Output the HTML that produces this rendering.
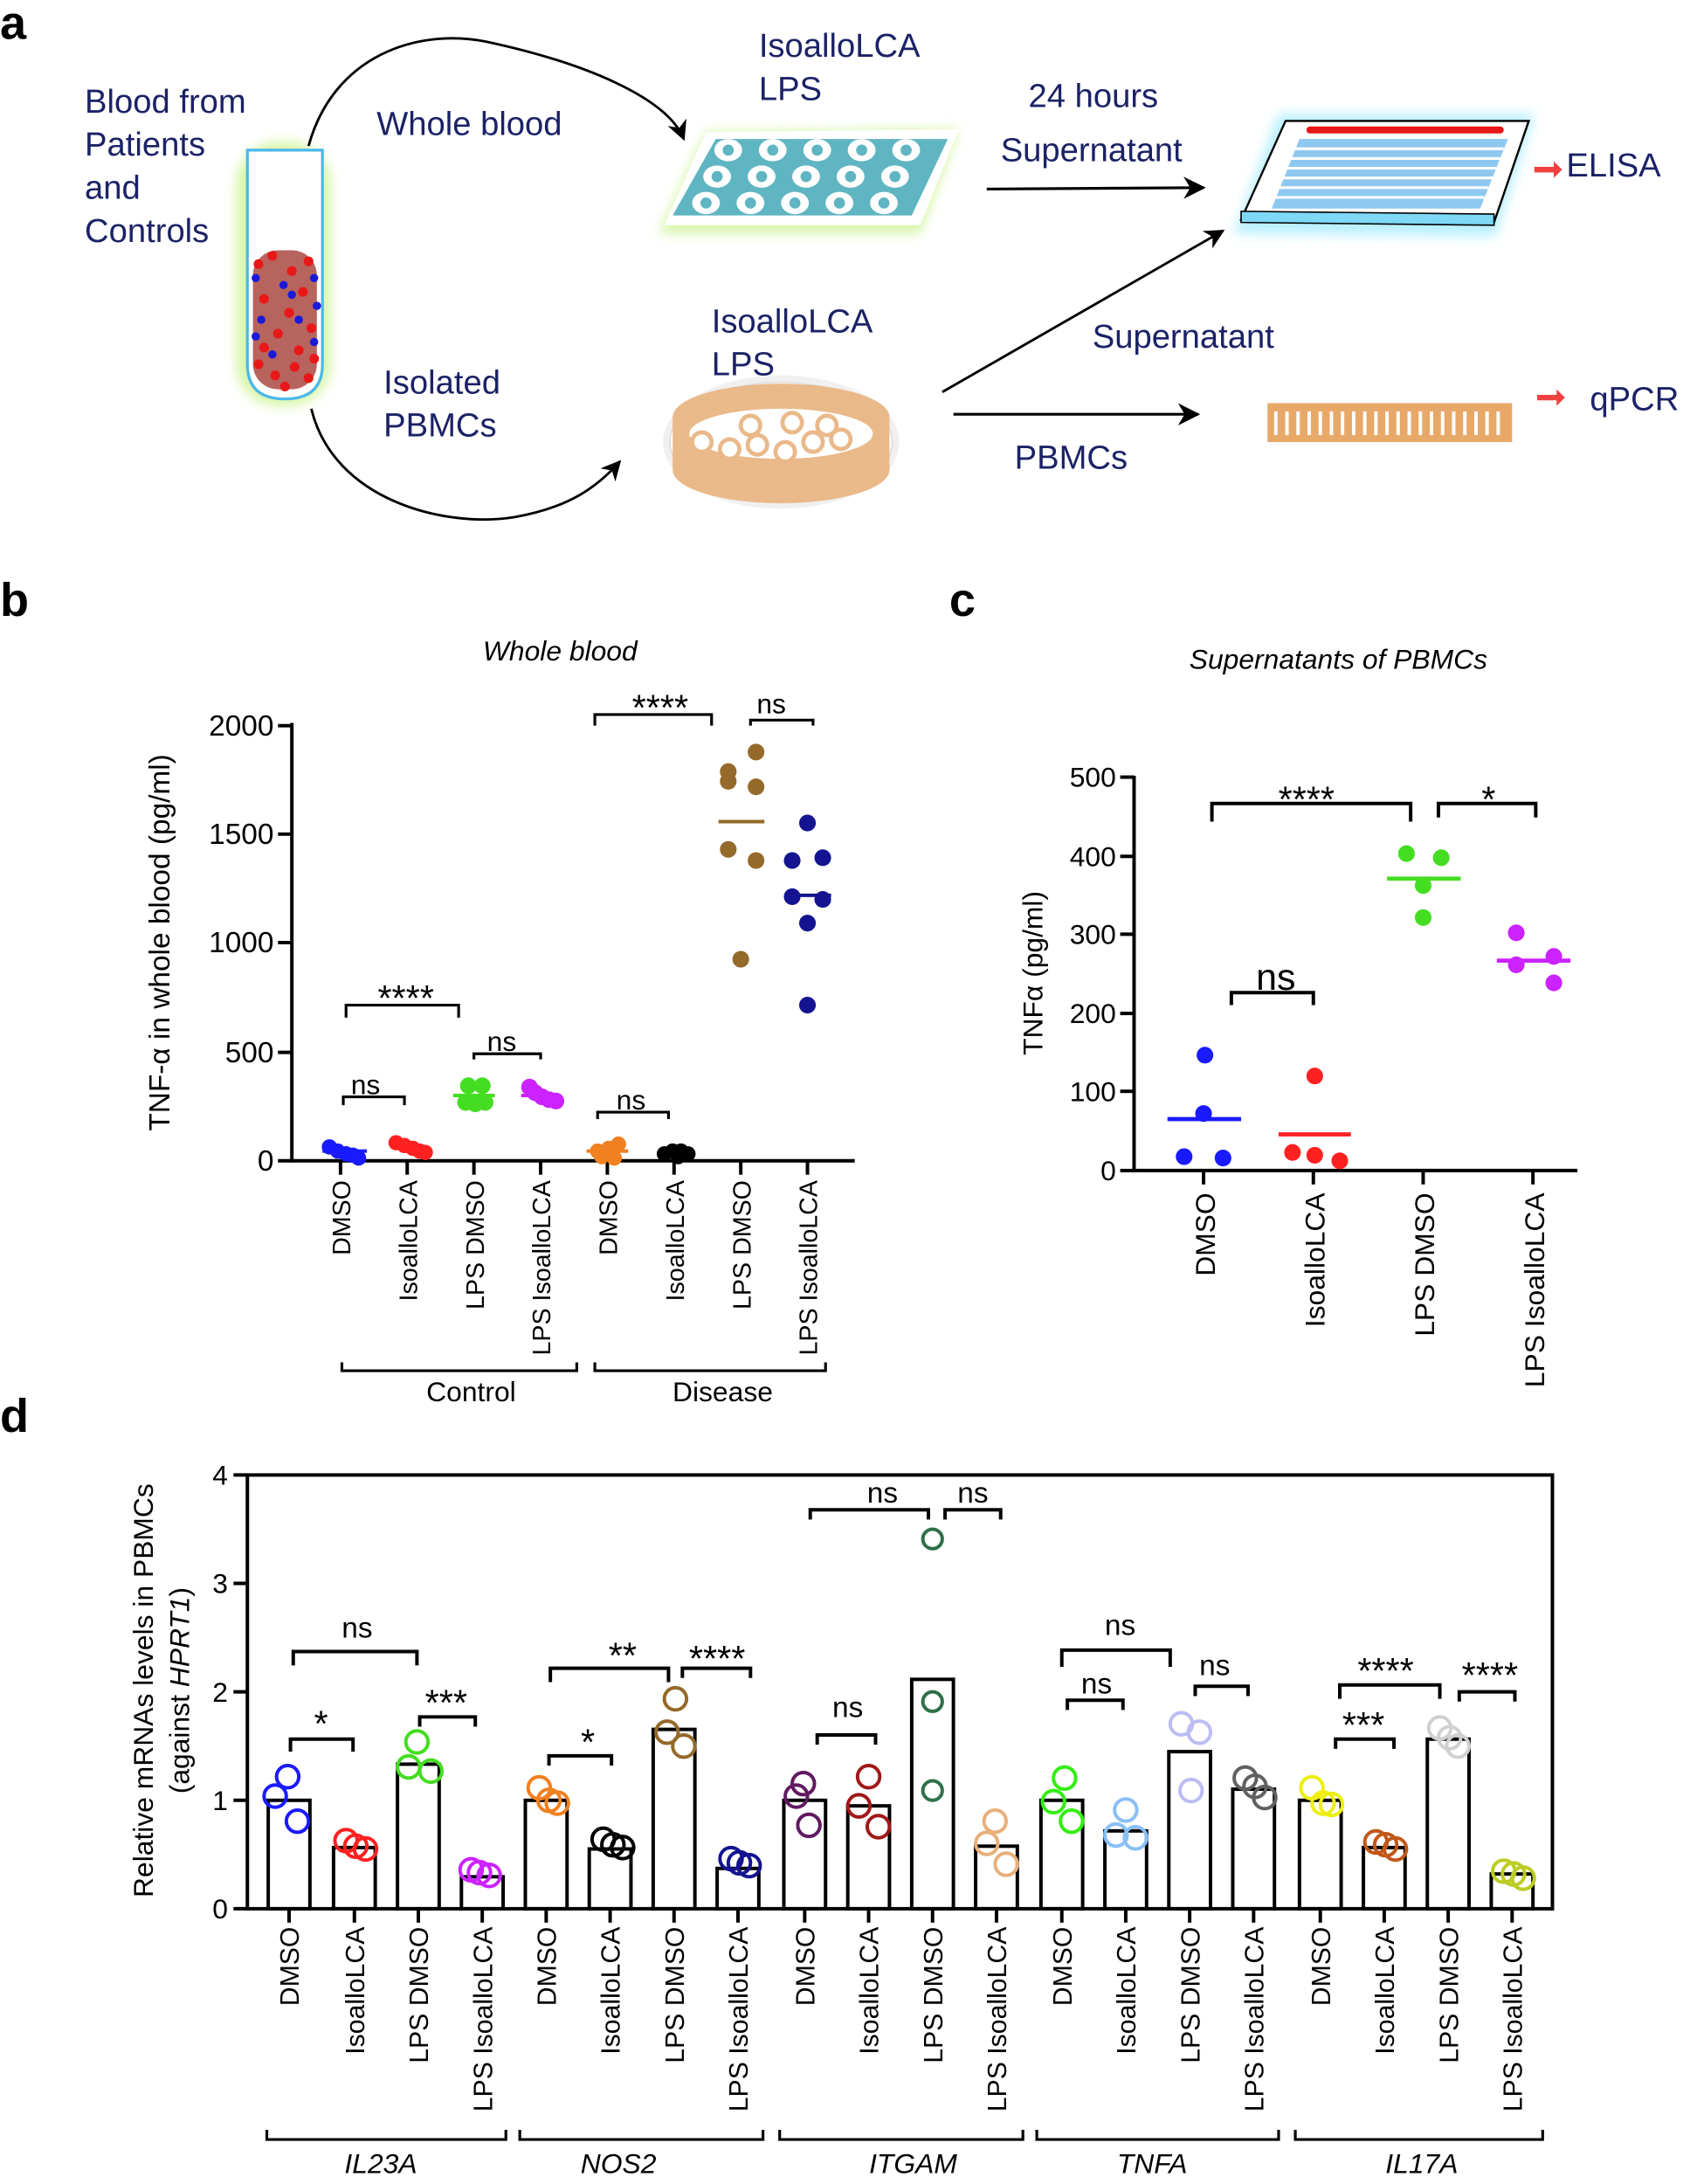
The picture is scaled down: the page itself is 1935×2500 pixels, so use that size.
<!DOCTYPE html>
<html><head><meta charset="utf-8"><style>
html,body{margin:0;padding:0;background:#fff}
svg{display:block}
text{font-family:"Liberation Sans",Arial,sans-serif}
.st{font-size:26px}
</style></head><body>
<svg width="1935" height="2500" viewBox="0 0 1216 1571" preserveAspectRatio="none" xmlns="http://www.w3.org/2000/svg">
<defs>
<marker id="ar" viewBox="0 0 10 10" refX="9" refY="5" markerWidth="8" markerHeight="8" orient="auto"><path d="M0,0 L10,5 L0,10 L3,5 Z" fill="#000"/></marker>
<filter id="glowG" x="-30%" y="-30%" width="160%" height="160%"><feGaussianBlur stdDeviation="4"/></filter>
</defs>
<!-- ===== Panel a ===== -->
<text x="0" y="28" font-size="34" font-weight="bold">a</text>
<g fill="#1b2266" font-size="24">
<text x="61" y="81">Blood from</text><text x="61" y="112">Patients</text><text x="61" y="143">and</text><text x="61" y="174">Controls</text>
<text x="271" y="97">Whole blood</text>
<text x="546" y="41">IsoalloLCA</text><text x="546" y="72">LPS</text>
<text x="740" y="77">24 hours</text><text x="720" y="116">Supernatant</text>
<text x="1127" y="127">ELISA</text>
<text x="276" y="283">Isolated</text><text x="276" y="314">PBMCs</text>
<text x="512" y="239">IsoalloLCA</text><text x="512" y="270">LPS</text>
<text x="786" y="250">Supernatant</text>
<text x="730" y="337">PBMCs</text>
<text x="1144" y="295">qPCR</text>
</g>
<rect x="170" y="102" width="68" height="190" rx="30" fill="#d8f5a8" filter="url(#glowG)"/>
<path d="M178,108 L232,108 L232,262 Q232,287 205,287 Q178,287 178,262 Z" fill="#fff" stroke="#4ab8ea" stroke-width="2"/>
<g>
<rect x="182" y="180" width="46" height="100" rx="18" fill="#a03028" opacity="0.75"/>
<g fill="#e81818">
<circle cx="186" cy="190" r="3.5"/><circle cx="196" cy="184" r="3.5"/><circle cx="210" cy="195" r="3.5"/><circle cx="222" cy="188" r="3.5"/><circle cx="190" cy="215" r="3.5"/><circle cx="218" cy="210" r="3.5"/><circle cx="200" cy="240" r="3.5"/><circle cx="224" cy="236" r="3.5"/><circle cx="186" cy="262" r="3.5"/><circle cx="198" cy="270" r="3.5"/><circle cx="212" cy="264" r="3.5"/><circle cx="222" cy="272" r="3.5"/><circle cx="205" cy="278" r="3.5"/><circle cx="190" cy="250" r="3.5"/><circle cx="215" cy="252" r="3.5"/><circle cx="226" cy="258" r="3.5"/><circle cx="208" cy="225" r="3.5"/>
</g>
<g fill="#1a1ad8">
<circle cx="184" cy="200" r="3"/><circle cx="204" cy="205" r="3"/><circle cx="226" cy="200" r="3"/><circle cx="188" cy="230" r="3"/><circle cx="215" cy="230" r="3"/><circle cx="196" cy="255" r="3"/><circle cx="226" cy="246" r="3"/><circle cx="184" cy="242" r="3"/><circle cx="210" cy="212" r="3"/><circle cx="228" cy="220" r="3"/>
</g>
</g>
<path d="M222,105 C240,40 300,20 350,30 C420,45 480,70 492,100" fill="none" stroke="#000" stroke-width="1.8" marker-end="url(#ar)"/>
<path d="M224,294 C240,360 320,380 370,372 C410,365 430,350 446,332" fill="none" stroke="#000" stroke-width="1.8" marker-end="url(#ar)"/>
<line x1="710" y1="136" x2="866" y2="135" stroke="#000" stroke-width="2" marker-end="url(#ar)"/>
<line x1="678" y1="282" x2="880" y2="166" stroke="#000" stroke-width="1.8" marker-end="url(#ar)"/>
<line x1="686" y1="298" x2="862" y2="298" stroke="#000" stroke-width="2" marker-end="url(#ar)"/>
<polygon points="508,95 690,93 662,168 474,168" fill="#d8f5a8" filter="url(#glowG)"/>
<polygon points="508,95 690,93 662,162 478,162" fill="#fff"/>
<polygon points="515,100 682,100 656,155 484,155" fill="#5fb5c1"/>
<g fill="#fff"><ellipse cx="524" cy="108" rx="10" ry="8"/><ellipse cx="556" cy="108" rx="10" ry="8"/><ellipse cx="588" cy="108" rx="10" ry="8"/><ellipse cx="620" cy="108" rx="10" ry="8"/><ellipse cx="652" cy="108" rx="10" ry="8"/>
<ellipse cx="516" cy="127" rx="10" ry="8"/><ellipse cx="548" cy="127" rx="10" ry="8"/><ellipse cx="580" cy="127" rx="10" ry="8"/><ellipse cx="612" cy="127" rx="10" ry="8"/><ellipse cx="644" cy="127" rx="10" ry="8"/>
<ellipse cx="508" cy="146" rx="10" ry="8"/><ellipse cx="540" cy="146" rx="10" ry="8"/><ellipse cx="572" cy="146" rx="10" ry="8"/><ellipse cx="604" cy="146" rx="10" ry="8"/><ellipse cx="636" cy="146" rx="10" ry="8"/></g>
<g fill="#5fb5c1"><circle cx="524" cy="108" r="4"/><circle cx="556" cy="108" r="4"/><circle cx="588" cy="108" r="4"/><circle cx="620" cy="108" r="4"/><circle cx="652" cy="108" r="4"/><circle cx="516" cy="127" r="4"/><circle cx="548" cy="127" r="4"/><circle cx="580" cy="127" r="4"/><circle cx="612" cy="127" r="4"/><circle cx="644" cy="127" r="4"/><circle cx="508" cy="146" r="4"/><circle cx="540" cy="146" r="4"/><circle cx="572" cy="146" r="4"/><circle cx="604" cy="146" r="4"/><circle cx="636" cy="146" r="4"/></g>
<polygon points="920,82 1104,82 1076,170 888,168" fill="#b8f0ff" filter="url(#glowG)"/>
<polygon points="925,87 1100,87 1075,160 893,158" fill="#fff" stroke="#000" stroke-width="1.5"/>
<polygon points="893,152 1075,154 1075,162 893,160" fill="#7ed8f6" stroke="#000" stroke-width="1"/>
<g fill="#e81818"><rect x="940" y="91" width="142" height="5" rx="2.5"/></g>
<g fill="#8ec8f0"><polygon points="935,100 1085,100 1065,150 915,150"/></g>
<g stroke="#fff" stroke-width="2"><line x1="920" y1="107" x2="1082" y2="107"/><line x1="918" y1="114" x2="1080" y2="114"/><line x1="915" y1="121" x2="1077" y2="121"/><line x1="912" y1="128" x2="1074" y2="128"/><line x1="910" y1="135" x2="1071" y2="135"/><line x1="908" y1="142" x2="1068" y2="142"/></g>
<polygon points="1104,120 1118,120 1118,116 1124,122 1118,128 1118,124 1104,124" fill="#f04040"/>
<ellipse cx="562" cy="318" rx="85" ry="48" fill="#f0f0f0"/>
<ellipse cx="562" cy="318" rx="80" ry="43" fill="#fff" stroke="#ddd"/>
<path d="M484,300 L640,300 L640,338 A78,24 0 0 1 484,338 Z" fill="#eab98a"/>
<ellipse cx="562" cy="300" rx="78" ry="24" fill="#eab98a"/>
<ellipse cx="562" cy="312" rx="66" ry="18" fill="#fff"/>
<g fill="#fff" stroke="#eab98a" stroke-width="3"><circle cx="505" cy="318" r="7"/><circle cx="525" cy="323" r="7"/><circle cx="545" cy="320" r="7"/><circle cx="565" cy="325" r="7"/><circle cx="585" cy="318" r="7"/><circle cx="605" cy="316" r="7"/><circle cx="540" cy="306" r="7"/><circle cx="570" cy="304" r="7"/><circle cx="595" cy="306" r="7"/></g>
<rect x="912" y="290" width="176" height="28" fill="#e8a868"/>
<g stroke="#fff" stroke-width="2.5">
<line x1="918" y1="296" x2="918" y2="313"/><line x1="926" y1="296" x2="926" y2="313"/><line x1="934" y1="296" x2="934" y2="313"/><line x1="942" y1="296" x2="942" y2="313"/><line x1="950" y1="296" x2="950" y2="313"/><line x1="958" y1="296" x2="958" y2="313"/><line x1="966" y1="296" x2="966" y2="313"/><line x1="974" y1="296" x2="974" y2="313"/><line x1="982" y1="296" x2="982" y2="313"/><line x1="990" y1="296" x2="990" y2="313"/><line x1="998" y1="296" x2="998" y2="313"/><line x1="1006" y1="296" x2="1006" y2="313"/><line x1="1014" y1="296" x2="1014" y2="313"/><line x1="1022" y1="296" x2="1022" y2="313"/><line x1="1030" y1="296" x2="1030" y2="313"/><line x1="1038" y1="296" x2="1038" y2="313"/><line x1="1046" y1="296" x2="1046" y2="313"/><line x1="1054" y1="296" x2="1054" y2="313"/><line x1="1062" y1="296" x2="1062" y2="313"/><line x1="1070" y1="296" x2="1070" y2="313"/><line x1="1078" y1="296" x2="1078" y2="313"/></g>
<polygon points="1106,284 1120,284 1120,280 1126,286 1120,292 1120,288 1106,288" fill="#f04040"/>

<!-- ===== Panel b ===== -->
<text x="0" y="443" font-size="34" font-weight="bold">b</text>
<text x="403" y="475" font-size="20" font-style="italic" text-anchor="middle">Whole blood</text>
<g stroke="#000" stroke-width="2.5" fill="none">
<line x1="210" y1="520" x2="210" y2="835"/><line x1="209" y1="835" x2="615" y2="835"/>
<line x1="200" y1="522" x2="210" y2="522"/><line x1="200" y1="600" x2="210" y2="600"/><line x1="200" y1="678" x2="210" y2="678"/><line x1="200" y1="757" x2="210" y2="757"/><line x1="200" y1="835" x2="210" y2="835"/>
<line x1="245" y1="835" x2="245" y2="845"/><line x1="293" y1="835" x2="293" y2="845"/><line x1="341" y1="835" x2="341" y2="845"/><line x1="389" y1="835" x2="389" y2="845"/><line x1="437" y1="835" x2="437" y2="845"/><line x1="485" y1="835" x2="485" y2="845"/><line x1="533" y1="835" x2="533" y2="845"/><line x1="581" y1="835" x2="581" y2="845"/>
</g>
<g font-size="21" text-anchor="end"><text x="197" y="529">2000</text><text x="197" y="607">1500</text><text x="197" y="685">1000</text><text x="197" y="764">500</text><text x="197" y="842">0</text></g>
<text transform="translate(122,678) rotate(-90)" font-size="21" text-anchor="middle">TNF-α in whole blood (pg/ml)</text>
<g font-size="18" text-anchor="end">
<text transform="translate(252,849) rotate(-90)">DMSO</text><text transform="translate(300,849) rotate(-90)">IsoalloLCA</text><text transform="translate(348,849) rotate(-90)">LPS DMSO</text><text transform="translate(396,849) rotate(-90)">LPS IsoalloLCA</text>
<text transform="translate(444,849) rotate(-90)">DMSO</text><text transform="translate(492,849) rotate(-90)">IsoalloLCA</text><text transform="translate(540,849) rotate(-90)">LPS DMSO</text><text transform="translate(588,849) rotate(-90)">LPS IsoalloLCA</text>
</g>
<g stroke="#000" stroke-width="2" fill="none">
<path d="M246,980 L246,986 L415,986 L415,980"/><path d="M428,980 L428,986 L594,986 L594,980"/>
<path d="M247,795 L247,789 L291,789 L291,795"/><path d="M249,732 L249,723 L330,723 L330,732"/><path d="M341,762 L341,758 L389,758 L389,762"/>
<path d="M430,805 L430,800 L481,800 L481,805"/><path d="M428,522 L428,514 L512,514 L512,522"/><path d="M540,522 L540,518 L585,518 L585,522"/>
</g>
<g font-size="20" text-anchor="middle"><text x="339" y="1008">Control</text><text x="520" y="1008">Disease</text>
<text x="263" y="787">ns</text><text x="361" y="756">ns</text><text x="454" y="798">ns</text><text x="555" y="513">ns</text></g>
<g class="st" text-anchor="middle"><text x="292" y="727">****</text><text x="475" y="518">****</text></g>
<g fill="#1a1aff"><circle cx="237" cy="825" r="5.5"/><circle cx="243" cy="828" r="5.5"/><circle cx="249" cy="830" r="5.5"/><circle cx="254" cy="831" r="5.5"/><circle cx="258" cy="833" r="5.5"/></g>
<line x1="232" y1="828" x2="264" y2="828" stroke="#1a1aff" stroke-width="2.5"/>
<g fill="#ff2020"><circle cx="285" cy="822" r="5.5"/><circle cx="291" cy="824" r="5.5"/><circle cx="297" cy="826" r="5.5"/><circle cx="302" cy="828" r="5.5"/><circle cx="306" cy="829" r="5.5"/></g>
<g fill="#44dd22"><circle cx="337" cy="781" r="6"/><circle cx="347" cy="781" r="6"/><circle cx="335" cy="793" r="6"/><circle cx="342" cy="794" r="6"/><circle cx="349" cy="793" r="6"/></g>
<line x1="326" y1="788" x2="356" y2="788" stroke="#44dd22" stroke-width="2.5"/>
<g fill="#cc22ff"><circle cx="381" cy="782" r="6"/><circle cx="385" cy="786" r="6"/><circle cx="390" cy="789" r="6"/><circle cx="395" cy="791" r="6"/><circle cx="400" cy="792" r="6"/></g>
<line x1="375" y1="788" x2="403" y2="788" stroke="#cc22ff" stroke-width="2.5"/>
<g fill="#f08020"><circle cx="430" cy="828" r="5.5"/><circle cx="438" cy="826" r="5.5"/><circle cx="445" cy="823" r="5.5"/><circle cx="433" cy="832" r="5.5"/><circle cx="442" cy="833" r="5.5"/></g>
<line x1="422" y1="828" x2="452" y2="828" stroke="#f08020" stroke-width="2.5"/>
<g fill="#000"><circle cx="478" cy="830" r="5.5"/><circle cx="484" cy="828" r="5.5"/><circle cx="490" cy="828" r="5.5"/><circle cx="488" cy="832" r="5.5"/><circle cx="495" cy="830" r="5.5"/></g>
<g fill="#94692a"><circle cx="544" cy="541" r="6"/><circle cx="524" cy="555" r="6"/><circle cx="524" cy="562" r="6"/><circle cx="544" cy="566" r="6"/><circle cx="524" cy="611" r="6"/><circle cx="544" cy="619" r="6"/><circle cx="533" cy="690" r="6"/></g>
<line x1="517" y1="591" x2="550" y2="591" stroke="#94692a" stroke-width="2.5"/>
<g fill="#141490"><circle cx="581" cy="592" r="6"/><circle cx="570" cy="619" r="6"/><circle cx="592" cy="617" r="6"/><circle cx="570" cy="645" r="6"/><circle cx="592" cy="647" r="6"/><circle cx="581" cy="664" r="6"/><circle cx="581" cy="723" r="6"/></g>
<line x1="565" y1="644" x2="598" y2="644" stroke="#141490" stroke-width="2.5"/>

<!-- ===== Panel c ===== -->
<text x="683" y="443" font-size="34" font-weight="bold">c</text>
<text x="963" y="481" font-size="20" font-style="italic" text-anchor="middle">Supernatants of PBMCs</text>
<g stroke="#000" stroke-width="2.5" fill="none">
<line x1="816" y1="558" x2="816" y2="843"/><line x1="815" y1="842" x2="1135" y2="842"/>
<line x1="806" y1="559" x2="816" y2="559"/><line x1="806" y1="616" x2="816" y2="616"/><line x1="806" y1="672" x2="816" y2="672"/><line x1="806" y1="729" x2="816" y2="729"/><line x1="806" y1="785" x2="816" y2="785"/><line x1="806" y1="842" x2="816" y2="842"/>
<line x1="866" y1="842" x2="866" y2="852"/><line x1="945" y1="842" x2="945" y2="852"/><line x1="1024" y1="842" x2="1024" y2="852"/><line x1="1103" y1="842" x2="1103" y2="852"/>
<path d="M872,591 L872,578 L1015,578 L1015,591"/><path d="M1035,588 L1035,578 L1105,578 L1105,588"/><path d="M886,723 L886,714 L945,714 L945,723"/>
</g>
<g font-size="20" text-anchor="end"><text x="803" y="566">500</text><text x="803" y="623">400</text><text x="803" y="679">300</text><text x="803" y="736">200</text><text x="803" y="792">100</text><text x="803" y="849">0</text></g>
<text transform="translate(750,700) rotate(-90)" font-size="20" text-anchor="middle">TNFα (pg/ml)</text>
<g class="st" text-anchor="middle"><text x="940" y="584">****</text><text x="1071" y="584">*</text></g>
<text x="918" y="712" font-size="27" text-anchor="middle">ns</text>
<g font-size="20" text-anchor="end">
<text transform="translate(874,858) rotate(-90)">DMSO</text><text transform="translate(953,858) rotate(-90)">IsoalloLCA</text><text transform="translate(1032,858) rotate(-90)">LPS DMSO</text><text transform="translate(1111,858) rotate(-90)">LPS IsoalloLCA</text>
</g>
<g fill="#1a1aff"><circle cx="867" cy="759" r="6"/><circle cx="866" cy="801" r="6"/><circle cx="852" cy="832" r="6"/><circle cx="880" cy="833" r="6"/></g>
<line x1="840" y1="805" x2="893" y2="805" stroke="#1a1aff" stroke-width="3"/>
<g fill="#ff2020"><circle cx="946" cy="774" r="6"/><circle cx="930" cy="829" r="6"/><circle cx="946" cy="831" r="6"/><circle cx="964" cy="835" r="6"/></g>
<line x1="920" y1="816" x2="972" y2="816" stroke="#ff2020" stroke-width="3"/>
<g fill="#44dd22"><circle cx="1012" cy="614" r="6"/><circle cx="1037" cy="617" r="6"/><circle cx="1024" cy="637" r="6"/><circle cx="1024" cy="660" r="6"/></g>
<line x1="998" y1="632" x2="1051" y2="632" stroke="#44dd22" stroke-width="3"/>
<g fill="#cc22ff"><circle cx="1091" cy="671" r="6"/><circle cx="1118" cy="688" r="6"/><circle cx="1091" cy="694" r="6"/><circle cx="1118" cy="707" r="6"/></g>
<line x1="1077" y1="691" x2="1130" y2="691" stroke="#cc22ff" stroke-width="3"/>

<!-- ===== Panel d ===== -->
<text x="0" y="1030" font-size="34" font-weight="bold">d</text>
<rect x="178" y="1061" width="939" height="312" fill="none" stroke="#000" stroke-width="2.5"/>
<g stroke="#000" stroke-width="2.5">
<line x1="168" y1="1061" x2="178" y2="1061"/><line x1="168" y1="1139" x2="178" y2="1139"/><line x1="168" y1="1217" x2="178" y2="1217"/><line x1="168" y1="1295" x2="178" y2="1295"/><line x1="168" y1="1373" x2="178" y2="1373"/>
</g>
<g font-size="20" text-anchor="end"><text x="164" y="1068">4</text><text x="164" y="1146">3</text><text x="164" y="1224">2</text><text x="164" y="1302">1</text><text x="164" y="1380">0</text></g>
<text transform="translate(110,1216) rotate(-90)" font-size="20" text-anchor="middle">Relative mRNAs levels in PBMCs</text>
<text transform="translate(136,1216) rotate(-90)" font-size="20" text-anchor="middle">(against <tspan font-style="italic">HPRT1</tspan>)</text>
<g fill="none" stroke="#000" stroke-width="2.5">
<rect x="193" y="1295" width="30" height="78"/><rect x="240" y="1329" width="30" height="44"/><rect x="286" y="1269" width="30" height="104"/><rect x="332" y="1350" width="30" height="23"/>
<rect x="378" y="1295" width="30" height="78"/><rect x="424" y="1330" width="30" height="43"/><rect x="470" y="1244" width="30" height="129"/><rect x="516" y="1344" width="30" height="29"/>
<rect x="564" y="1295" width="30" height="78"/><rect x="610" y="1299" width="30" height="74"/><rect x="656" y="1208" width="30" height="165"/><rect x="702" y="1328" width="30" height="45"/>
<rect x="749" y="1295" width="30" height="78"/><rect x="795" y="1317" width="30" height="56"/><rect x="841" y="1260" width="30" height="113"/><rect x="887" y="1287" width="30" height="86"/>
<rect x="935" y="1295" width="30" height="78"/><rect x="981" y="1329" width="30" height="44"/><rect x="1027" y="1251" width="30" height="122"/><rect x="1073" y="1348" width="30" height="25"/>
</g>
<g stroke="#000" stroke-width="2.5">
<line x1="208" y1="1373" x2="208" y2="1383"/><line x1="255" y1="1373" x2="255" y2="1383"/><line x1="301" y1="1373" x2="301" y2="1383"/><line x1="347" y1="1373" x2="347" y2="1383"/>
<line x1="393" y1="1373" x2="393" y2="1383"/><line x1="439" y1="1373" x2="439" y2="1383"/><line x1="485" y1="1373" x2="485" y2="1383"/><line x1="531" y1="1373" x2="531" y2="1383"/>
<line x1="579" y1="1373" x2="579" y2="1383"/><line x1="625" y1="1373" x2="625" y2="1383"/><line x1="671" y1="1373" x2="671" y2="1383"/><line x1="717" y1="1373" x2="717" y2="1383"/>
<line x1="764" y1="1373" x2="764" y2="1383"/><line x1="810" y1="1373" x2="810" y2="1383"/><line x1="856" y1="1373" x2="856" y2="1383"/><line x1="902" y1="1373" x2="902" y2="1383"/>
<line x1="950" y1="1373" x2="950" y2="1383"/><line x1="996" y1="1373" x2="996" y2="1383"/><line x1="1042" y1="1373" x2="1042" y2="1383"/><line x1="1088" y1="1373" x2="1088" y2="1383"/>
</g>
<g font-size="19" text-anchor="end">
<text transform="translate(215,1386) rotate(-90)">DMSO</text><text transform="translate(262,1386) rotate(-90)">IsoalloLCA</text><text transform="translate(308,1386) rotate(-90)">LPS DMSO</text><text transform="translate(354,1386) rotate(-90)">LPS IsoalloLCA</text>
<text transform="translate(400,1386) rotate(-90)">DMSO</text><text transform="translate(446,1386) rotate(-90)">IsoalloLCA</text><text transform="translate(492,1386) rotate(-90)">LPS DMSO</text><text transform="translate(538,1386) rotate(-90)">LPS IsoalloLCA</text>
<text transform="translate(586,1386) rotate(-90)">DMSO</text><text transform="translate(632,1386) rotate(-90)">IsoalloLCA</text><text transform="translate(678,1386) rotate(-90)">LPS DMSO</text><text transform="translate(724,1386) rotate(-90)">LPS IsoalloLCA</text>
<text transform="translate(771,1386) rotate(-90)">DMSO</text><text transform="translate(817,1386) rotate(-90)">IsoalloLCA</text><text transform="translate(863,1386) rotate(-90)">LPS DMSO</text><text transform="translate(909,1386) rotate(-90)">LPS IsoalloLCA</text>
<text transform="translate(957,1386) rotate(-90)">DMSO</text><text transform="translate(1003,1386) rotate(-90)">IsoalloLCA</text><text transform="translate(1049,1386) rotate(-90)">LPS DMSO</text><text transform="translate(1095,1386) rotate(-90)">LPS IsoalloLCA</text>
</g>
<g stroke="#000" stroke-width="2" fill="none">
<path d="M192,1532 L192,1539 L364,1539 L364,1532"/><path d="M374,1532 L374,1539 L549,1539 L549,1532"/><path d="M561,1532 L561,1539 L736,1539 L736,1532"/><path d="M746,1532 L746,1539 L920,1539 L920,1532"/><path d="M932,1532 L932,1539 L1110,1539 L1110,1532"/>
</g>
<g font-size="20" font-style="italic" text-anchor="middle"><text x="274" y="1563">IL23A</text><text x="445" y="1563">NOS2</text><text x="657" y="1563">ITGAM</text><text x="829" y="1563">TNFA</text><text x="1023" y="1563">IL17A</text></g>
<g stroke="#000" stroke-width="2.5" fill="none">
<path d="M209,1260 L209,1251 L254,1251 L254,1260"/><path d="M211,1198 L211,1188 L300,1188 L300,1198"/><path d="M302,1242 L302,1235 L342,1235 L342,1242"/>
<path d="M395,1270 L395,1263 L440,1263 L440,1270"/><path d="M396,1210 L396,1200 L481,1200 L481,1210"/><path d="M491,1207 L491,1200 L540,1200 L540,1207"/>
<path d="M588,1255 L588,1248 L630,1248 L630,1255"/><path d="M583,1093 L583,1086 L668,1086 L668,1093"/><path d="M680,1093 L680,1086 L720,1086 L720,1093"/>
<path d="M764,1199 L764,1187 L842,1187 L842,1199"/><path d="M768,1230 L768,1223 L808,1223 L808,1230"/><path d="M860,1220 L860,1213 L898,1213 L898,1220"/>
<path d="M961,1258 L961,1251 L1003,1251 L1003,1258"/><path d="M964,1222 L964,1212 L1036,1212 L1036,1222"/><path d="M1050,1224 L1050,1217 L1090,1217 L1090,1224"/>
</g>
<g font-size="21" text-anchor="middle">
<text x="257" y="1178">ns</text><text x="610" y="1235">ns</text><text x="635" y="1081">ns</text><text x="700" y="1081">ns</text>
<text x="806" y="1176">ns</text><text x="789" y="1218">ns</text><text x="874" y="1205">ns</text>
</g>
<g class="st" text-anchor="middle">
<text x="231" y="1249">*</text><text x="321" y="1234">***</text>
<text x="423" y="1262">*</text><text x="448" y="1200">**</text><text x="516" y="1202">****</text>
<text x="981" y="1250">***</text><text x="997" y="1211">****</text><text x="1072" y="1214">****</text>
</g>
<g fill="none" stroke-width="2.5">
<g stroke="#1a1aff"><circle cx="207" cy="1278" r="8"/><circle cx="198" cy="1292" r="8"/><circle cx="214" cy="1310" r="8"/></g>
<g stroke="#ff2020"><circle cx="249" cy="1324" r="8"/><circle cx="256" cy="1328" r="8"/><circle cx="263" cy="1330" r="8"/></g>
<g stroke="#44dd22"><circle cx="300" cy="1253" r="8"/><circle cx="294" cy="1271" r="8"/><circle cx="310" cy="1274" r="8"/></g>
<g stroke="#cc22ff"><circle cx="339" cy="1345" r="8"/><circle cx="345" cy="1347" r="8"/><circle cx="352" cy="1349" r="8"/></g>
<g stroke="#f08020"><circle cx="388" cy="1286" r="8"/><circle cx="395" cy="1295" r="8"/><circle cx="401" cy="1297" r="8"/></g>
<g stroke="#000"><circle cx="434" cy="1323" r="8"/><circle cx="441" cy="1327" r="8"/><circle cx="448" cy="1329" r="8"/></g>
<g stroke="#94692a"><circle cx="486" cy="1222" r="8"/><circle cx="480" cy="1246" r="8"/><circle cx="492" cy="1256" r="8"/></g>
<g stroke="#141490"><circle cx="526" cy="1337" r="8"/><circle cx="532" cy="1340" r="8"/><circle cx="539" cy="1342" r="8"/></g>
<g stroke="#601a60"><circle cx="578" cy="1283" r="8"/><circle cx="573" cy="1292" r="8"/><circle cx="582" cy="1313" r="8"/></g>
<g stroke="#a01818"><circle cx="625" cy="1278" r="8"/><circle cx="618" cy="1299" r="8"/><circle cx="632" cy="1314" r="8"/></g>
<g stroke="#2e7048"><circle cx="671" cy="1107" r="7"/><circle cx="671" cy="1224" r="7"/><circle cx="671" cy="1288" r="7"/></g>
<g stroke="#e8b07a"><circle cx="716" cy="1310" r="8"/><circle cx="710" cy="1326" r="8"/><circle cx="724" cy="1341" r="8"/></g>
<g stroke="#33ee11"><circle cx="766" cy="1279" r="8"/><circle cx="758" cy="1296" r="8"/><circle cx="771" cy="1310" r="8"/></g>
<g stroke="#88bff5"><circle cx="810" cy="1302" r="8"/><circle cx="803" cy="1320" r="8"/><circle cx="817" cy="1322" r="8"/></g>
<g stroke="#bcbcf5"><circle cx="850" cy="1240" r="8"/><circle cx="863" cy="1246" r="8"/><circle cx="857" cy="1288" r="8"/></g>
<g stroke="#606060"><circle cx="896" cy="1279" r="8"/><circle cx="903" cy="1285" r="8"/><circle cx="910" cy="1293" r="8"/></g>
<g stroke="#eeee11"><circle cx="944" cy="1286" r="8"/><circle cx="952" cy="1297" r="8"/><circle cx="958" cy="1298" r="8"/></g>
<g stroke="#c05818"><circle cx="990" cy="1325" r="8"/><circle cx="997" cy="1327" r="8"/><circle cx="1004" cy="1330" r="8"/></g>
<g stroke="#d0d0d0"><circle cx="1036" cy="1243" r="8"/><circle cx="1043" cy="1250" r="8"/><circle cx="1049" cy="1256" r="8"/></g>
<g stroke="#bccc22"><circle cx="1082" cy="1346" r="8"/><circle cx="1089" cy="1348" r="8"/><circle cx="1096" cy="1351" r="8"/></g>
</g>
</svg>
</body></html>
